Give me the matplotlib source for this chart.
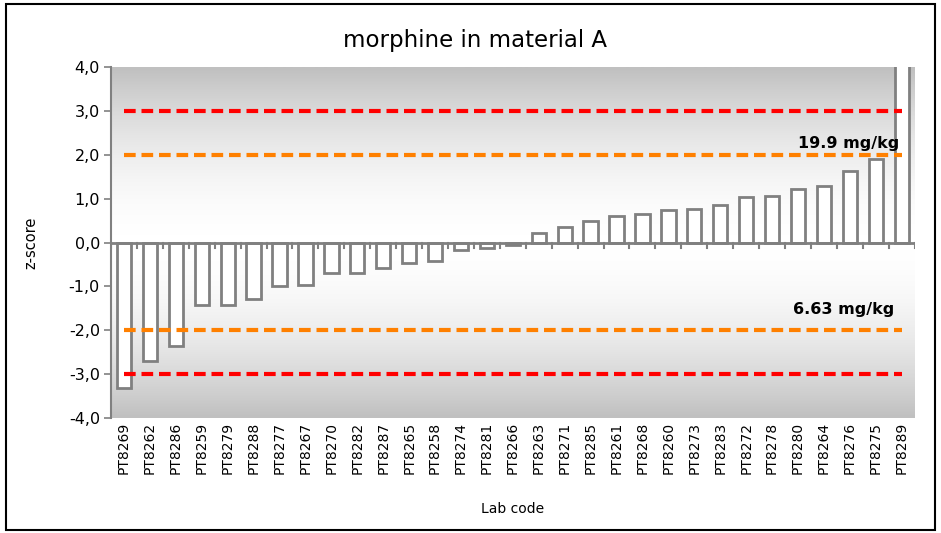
import numpy as np
import matplotlib
matplotlib.use("Agg")
import matplotlib.pyplot as plt
from matplotlib.patches import Rectangle
from matplotlib.colors import LinearSegmentedColormap

labs = ["PT8269", "PT8262", "PT8286", "PT8259", "PT8279", "PT8288", "PT8277", "PT8267",
        "PT8270", "PT8282", "PT8287", "PT8265", "PT8258", "PT8274", "PT8281", "PT8266",
        "PT8263", "PT8271", "PT8285", "PT8261", "PT8268", "PT8260", "PT8273", "PT8283",
        "PT8272", "PT8278", "PT8280", "PT8264", "PT8276", "PT8275", "PT8289"]
zscores = [-3.32, -2.71, -2.37, -1.43, -1.42, -1.28, -0.99, -0.97,
           -0.70, -0.69, -0.58, -0.47, -0.41, -0.18, -0.12, -0.05,
           0.21, 0.36, 0.49, 0.60, 0.64, 0.75, 0.77, 0.85,
           1.03, 1.07, 1.21, 1.30, 1.62, 1.91, 5.50]
action_limits = [-3.0, 3.0]
warning_limits = [-2.0, 2.0]
upper_label = "19.9 mg/kg"
lower_label = "6.63 mg/kg"
yticks = [-4, -3, -2, -1, 0, 1, 2, 3, 4]

fig = plt.figure(figsize=(9.41, 5.33), dpi=100)
ax = fig.add_axes([0.118, 0.2158, 0.854, 0.6583])

n = len(labs)
x = np.arange(n)

# gradient background
grad = np.abs(np.linspace(-1, 1, 256))[:, None] ** 1.8
cmap = LinearSegmentedColormap.from_list("g", ["#ffffff", "#c0c0c0"])
ax.imshow(grad, extent=[-0.5, n - 0.5, -4, 4], aspect="auto", cmap=cmap,
          vmin=0, vmax=1, zorder=0, origin="lower")

ax.bar(x, zscores, width=0.55, color="white", edgecolor="#808080", linewidth=2, zorder=2)

for lim in action_limits:
    ax.plot([0, n - 1], [lim, lim], color="#ff0000", linestyle=(0, (2.8, 1.4)),
            linewidth=3, zorder=3, solid_capstyle="butt")
for lim in warning_limits:
    ax.plot([0, n - 1], [lim, lim], color="#ff8000", linestyle=(0, (2.8, 1.4)),
            linewidth=3, zorder=3)

ax.text(n - 1.1, 2.26, upper_label, ha="right", va="center", fontsize=11.5, fontweight="bold", zorder=4)
ax.text(n - 1.3, -1.53, lower_label, ha="right", va="center", fontsize=11.5, fontweight="bold", zorder=4)

ax.set_xlim(-0.5, n - 0.5)
ax.set_ylim(-4, 4)
ax.set_yticks(yticks)
ax.set_yticklabels([f"{v:.1f}".replace(".", ",") for v in yticks], fontsize=11.5)
ax.set_xticks(x)
ax.set_xticklabels(labs, rotation=90, fontsize=10)
ax.tick_params(axis="x", length=0, pad=3)
ax.tick_params(axis="y", length=5, color="#808080", width=1.2, pad=3)

for s in ["top", "right", "bottom"]:
    ax.spines[s].set_visible(False)
ax.spines["left"].set_color("#808080")
ax.spines["left"].set_linewidth(1.5)

# zero axis line with tick marks between slots
ax.axhline(0, color="#808080", linewidth=2, zorder=2.5)
for b in np.arange(-0.5, n, 1.0):
    ax.plot([b, b], [0, -0.12], color="#808080", linewidth=1.5, zorder=2.5)

ax.set_ylabel("z-score", fontsize=10.5, labelpad=22)
ax.set_xlabel("Lab code", fontsize=10, labelpad=20)
fig.suptitle("morphine in material A", x=0.505, y=0.945, fontsize=16.5)

fig.patches.append(Rectangle((0.006, 0.006), 0.988, 0.987, transform=fig.transFigure,
                             fill=False, edgecolor="black", linewidth=1.5))

fig.savefig("out.png", dpi=100)
